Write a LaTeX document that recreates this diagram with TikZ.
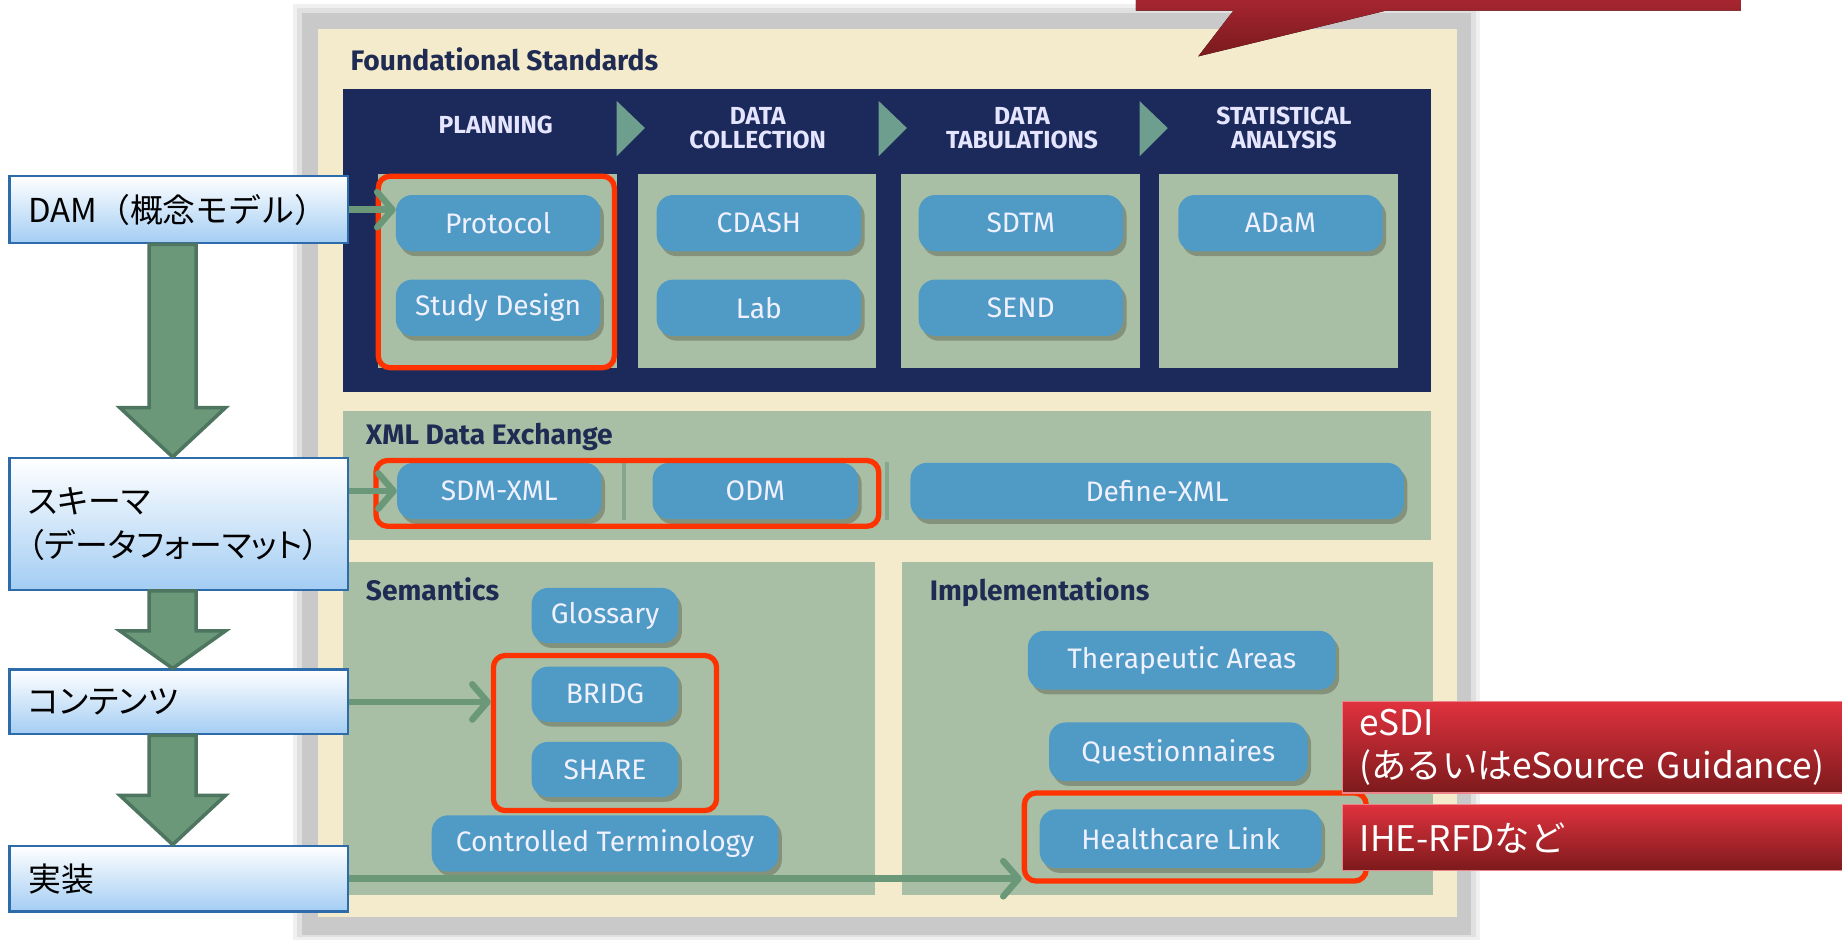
\documentclass[tikz,border=0pt]{standalone}
\usepackage{fontspec}
\setmainfont{Fira Sans}
\newfontfamily\jpfont{Noto Sans CJK JP}
\newfontfamily\jpnarrow[RawFeature=+palt]{Noto Sans CJK JP}
\usetikzlibrary{arrows.meta,calc,shadows}

\definecolor{navy}{HTML}{1B2A5A}
\definecolor{panelgreen}{HTML}{A8BFA6}
\definecolor{cream}{HTML}{F3EBCB}
\definecolor{framegray}{HTML}{C9C9C9}
\definecolor{pillblue}{HTML}{4F9BC5}
\definecolor{chevron}{HTML}{6E9E8E}
\definecolor{hired}{HTML}{FF3300}
\definecolor{flowgreen}{HTML}{6A9878}
\definecolor{flowdark}{HTML}{4E7560}
\definecolor{boxline}{HTML}{2E6BAA}
\definecolor{boxblue}{HTML}{A3CDF3}
\definecolor{calltop}{HTML}{E0323E}
\definecolor{callbot}{HTML}{7C1A1C}
\definecolor{pointtop}{HTML}{A52530}
\definecolor{pointbot}{HTML}{7A1A1E}
\definecolor{titleblue}{HTML}{1F2B52}
\definecolor{sepgreen}{HTML}{86A690}

\tikzset{
  pill/.style={rounded corners=14pt, fill=pillblue, text=white!94!blue, inner sep=0pt,
    font=\fontsize{24}{24}\selectfont,
    drop shadow={shadow xshift=3pt, shadow yshift=-4pt, opacity=.35, fill=black!70!olive}},
  hilite/.style={draw=hired, line width=4.5pt, rounded corners=10pt, inner sep=0pt},
  flowbox/.style={draw=boxline, line width=2pt, top color=white, bottom color=boxblue,
    text width=256pt, inner xsep=16pt, align=left,
    font=\jpfont\fontsize{28}{38}\selectfont},
  callout/.style={top color=calltop, bottom color=callbot, draw=calltop!60!white, line width=1pt,
    text=white, text width=410pt, inner xsep=15pt, align=left, anchor=west,
    font=\jpfont\fontsize{30}{37}\selectfont},
  link/.style={draw=flowgreen, line width=5.5pt, -{Straight Barb[length=13pt, width=30pt, round]}},
  bigarrow/.style={fill=flowgreen, draw=flowdark, line width=3pt},
  paneltitle/.style={text=titleblue, anchor=base west, font=\bfseries\fontsize{24}{24}\selectfont},
  colhead/.style={text=white!90!blue, align=center, font=\bfseries\fontsize{21}{21}\selectfont}
}

\begin{document}
\begin{tikzpicture}[x=1pt, y=-1pt]
\useasboundingbox (0,0) rectangle (1568,800);

% Frame of the standards picture
\fill[black!6] (249,3) rectangle (1260,800);
\fill[black!12] (253,7) rectangle (1256,798);
\fill[framegray] (257,11) rectangle (1252,796);
\fill[cream] (271,25) rectangle (1240,781);

% Callout pointer at the top
\fill[top color=pointtop, bottom color=pointbot]
  (967,0) -- (1482,0) -- (1482,9) -- (1180,9) -- (1020,48) -- (1050,9) -- (967,9) -- cycle;

% Foundational standards
\node[paneltitle] (found) at (295,60) {Foundational Standards};
\fill[navy] (292,76) rectangle (1218,334);
\foreach \x in {322,543,767,987}
  \fill[panelgreen] (\x,148) rectangle ++(203,165);
\foreach \x in {525,748,970}
  \fill[chevron] (\x,86) -- ++(24,23) -- ++(-24,24) -- cycle;

\node[colhead] (hplan) at (422,106) {PLANNING};
\node[colhead] (hcoll) at (645,109) {DATA\\COLLECTION};
\node[colhead] (htab) at (870,109) {DATA\\TABULATIONS};
\node[colhead] (hstat) at (1093,109) {STATISTICAL\\ANALYSIS};

\node[pill, minimum width=174pt, minimum height=48pt] (protocol) at (424,190) {Protocol};
\node[pill, minimum width=174pt, minimum height=48pt] (design) at (424,262) {Study Design};
\node[pill, minimum width=174pt, minimum height=48pt] (cdash) at (646,190) {CDASH};
\node[pill, minimum width=174pt, minimum height=48pt] (lab) at (646,262) {Lab};
\node[pill, minimum width=174pt, minimum height=48pt] (sdtm) at (869,190) {SDTM};
\node[pill, minimum width=174pt, minimum height=48pt] (send) at (869,262) {SEND};
\node[pill, minimum width=174pt, minimum height=48pt] (adam) at (1090,190) {ADaM};

% XML data exchange
\fill[panelgreen] (292,350) rectangle (1218,460);
\node[paneltitle] (xmltitle) at (308,378) {XML Data Exchange};
\foreach \x in {531,755}
  \draw[sepgreen, line width=3pt] (\x,393) -- (\x,443);
\node[pill, minimum width=174pt, minimum height=48pt] (sdmxml) at (425,418) {SDM-XML};
\node[pill, minimum width=175pt, minimum height=48pt] (odm) at (643,418) {ODM};
\node[pill, minimum width=420pt, minimum height=48pt] (definexml) at (985,418) {Define-XML};

% Semantics
\fill[panelgreen] (292,478) rectangle (745,762);
\node[paneltitle] (semtitle) at (308,511) {Semantics};
\node[pill, minimum width=125pt, minimum height=47pt] (glossary) at (515,524) {Glossary};
\node[pill, minimum width=125pt, minimum height=47pt] (bridg) at (515,591) {BRIDG};
\node[pill, minimum width=125pt, minimum height=47pt] (share) at (515,655) {SHARE};
\node[pill, minimum width=295pt, minimum height=48pt] (ct) at (515,718) {Controlled Terminology};

% Implementations
\fill[panelgreen] (768,478) rectangle (1220,762);
\node[paneltitle] (imptitle) at (788,511) {Implementations};
\node[pill, minimum width=262pt, minimum height=50pt] (ta) at (1006,562) {Therapeutic Areas};
\node[pill, minimum width=220pt, minimum height=50pt] (quest) at (1003,640) {Questionnaires};
\node[pill, minimum width=240pt, minimum height=50pt] (hlink) at (1005,714) {Healthcare Link};

% Red highlights
\node[hilite, minimum width=201pt, minimum height=163pt] (planred) at (422.5,231.5) {};
\node[hilite, minimum width=428pt, minimum height=56pt] (xmlred) at (534,420) {};
\node[hilite, minimum width=190pt, minimum height=132pt] (semred) at (515,624) {};
\node[hilite, minimum width=291pt, minimum height=75pt] (implred) at (1017.5,712.5) {};

% Red callouts on the right
\node[callout, minimum height=78pt] (esdi) at (1142,636) {eSDI\\(あるいはeSource Guidance)};
\node[callout, minimum height=56pt] (ihe) at (1142,713) {IHE-RFDなど};

% Left flow boxes
\node[flowbox, minimum height=57pt] (dam) at (152,178.5) {DAM（概念モデル）};
\node[flowbox, minimum height=112pt] (schema) at (152,446) {\jpnarrow スキーマ\\（データフォーマット）};
\node[flowbox, minimum height=55pt] (content) at (152,597.5) {\jpnarrow コンテンツ};
\node[flowbox, minimum height=56pt] (impl) at (152,748) {実装};

% Big down arrows between the flow boxes
\foreach \a/\b/\h in {dam/schema/42, schema/content/32, content/impl/42}
  \draw[bigarrow] ($(\a.south)+(-25,0)$) -- ($(\b.north)+(-25,-\h)$) -- ($(\b.north)+(-50,-\h)$)
    -- ($(\b.north)+(-5,0)$) -- ($(\b.north)+(40,-\h)$) -- ($(\b.north)+(15,-\h)$)
    -- ($(\a.south)+(15,0)$) -- cycle;

% Links into the standards
\draw[link] (dam.east) -- (dam.east -| protocol.west);
\draw[link] (schema.east |- sdmxml.west) -- (sdmxml.west);
\draw[link] (content.east) -- (content.east -| semred.west);
\draw[link] (impl.east) -- (impl.east -| implred.west);
\end{tikzpicture}
\end{document}
